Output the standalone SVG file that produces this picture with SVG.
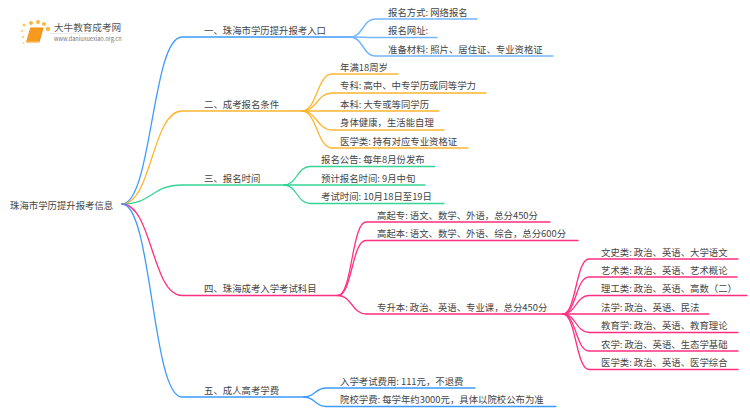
<svg xmlns="http://www.w3.org/2000/svg" width="750" height="410" viewBox="0 0 750 410">
<style>
text{font-family:"Noto Sans CJK SC","Noto Sans",sans-serif;font-size:9.4px;fill:#444}
path{fill:none;stroke-width:1.3;stroke-linecap:round}
.b{stroke:#3c9aff}.bl{stroke:#74b6ff;stroke-width:1.5}
.o{stroke:#ffb52e}.g{stroke:#35d495}.p{stroke:#ff2f80}
</style>
<defs><linearGradient id="fade"><stop offset="0" stop-color="#ddd"/><stop offset="1" stop-color="#fff"/></linearGradient></defs>
<rect width="750" height="410" fill="#fff"/>
<g id="logo">
<circle cx="22" cy="31" r="1.3" fill="#fbd58a"/><circle cx="23" cy="37" r="1.2" fill="#fbd58a"/><circle cx="24" cy="25" r="1.6" fill="#fbc65e"/>
<circle cx="31" cy="23" r="2" fill="#f9b73c"/><circle cx="38" cy="22" r="2" fill="#f9b73c"/><circle cx="44" cy="24" r="2" fill="#f9b73c"/><circle cx="48" cy="29" r="2.2" fill="#f9b73c"/>
<circle cx="23.500" cy="43" r="1" fill="#fbd58a"/>
<path d="M31 28H43L39 42H27Z" style="fill:#f59a1c;stroke:#f08a10;stroke-width:1"/>
<path d="M27.500 42H39" style="stroke:#fbd08c;stroke-width:1"/>
<text x="54" y="31" style="font-size:9.6px;fill:#555">大牛教育成考网</text>
<rect x="50" y="33" width="83" height="0.8" fill="url(#fade)"/>
<text x="54" y="41" style="font-size:5.600px;fill:#777">www.daniuxuexiao.org.cn</text>
</g>
<g id="connectors">
<path class="b" d="M122 204C152 204 152 37 182 37H350"/>
<path class="o" d="M122 204C152 204 152 111 182 111H302"/>
<path class="g" d="M122 204C152 204 152 185 182 185H284"/>
<path class="p" d="M122 204C152 204 152 295.500 182 295.500H338"/>
<path class="b" d="M122 204C152 204 152 397 182 397H304"/>
<path class="bl" d="M350 37C363 37 363 19 375 19H477"/>
<path class="bl" d="M350 37C363 37 363 37.500 375 37.500H437"/>
<path class="bl" d="M350 37C363 37 363 56 375 56H553"/>
<path class="o" d="M302 111C317 111 317 74 332 74H398"/>
<path class="o" d="M302 111C317 111 317 93 332 93H486"/>
<path class="o" d="M302 111C317 111 317 111 332 111H439"/>
<path class="o" d="M302 111C317 111 317 130 332 130H444"/>
<path class="o" d="M302 111C317 111 317 148 332 148H468"/>
<path class="g" d="M284 185C297 185 297 166.500 310 166.500H435"/>
<path class="g" d="M284 185C297 185 297 185 310 185H425"/>
<path class="g" d="M284 185C297 185 297 203.500 310 203.500H444"/>
<path class="p" d="M338 295.500C352 295.500 352 222 366 222H550"/>
<path class="p" d="M338 295.500C352 295.500 352 240.500 366 240.500H578"/>
<path class="p" d="M338 295.500C352 295.500 352 314 366 314H563"/>
<path class="p" d="M563 314C576 314 576 259 589 259H738"/>
<path class="p" d="M563 314C576 314 576 277 589 277H737"/>
<path class="p" d="M563 314C576 314 576 295.500 589 295.500H747"/>
<path class="p" d="M563 314C576 314 576 314 589 314H709"/>
<path class="p" d="M563 314C576 314 576 332.500 589 332.500H738"/>
<path class="p" d="M563 314C576 314 576 351 589 351H738"/>
<path class="p" d="M563 314C576 314 576 369.500 589 369.500H738"/>
<path class="b" d="M304 397C315 397 315 388 326 388H475"/>
<path class="b" d="M304 397C315 397 315 406.500 326 406.500H556"/>
</g>
<g id="root"><text x="10" y="208.500">珠海市学历提升报考信息</text></g>
<g id="n1"><text x="204" y="34">一、珠海市学历提升报考入口</text></g>
<g id="n1-1"><text x="388" y="15.500">报名方式: 网络报名</text></g>
<g id="n1-2"><text x="388" y="34">报名网址:</text></g>
<g id="n1-3"><text x="388" y="52.500">准备材料: 照片、居住证、专业资格证</text></g>
<g id="n2"><text x="204" y="107.500">二、成考报名条件</text></g>
<g id="n2-1"><text x="340" y="70.500">年满18周岁</text></g>
<g id="n2-2"><text x="340" y="89">专科: 高中、中专学历或同等学力</text></g>
<g id="n2-3"><text x="340" y="107.500">本科: 大专或等同学历</text></g>
<g id="n2-4"><text x="340" y="126">身体健康，生活能自理</text></g>
<g id="n2-5"><text x="340" y="144.500">医学类: 持有对应专业资格证</text></g>
<g id="n3"><text x="204" y="181.500">三、报名时间</text></g>
<g id="n3-1"><text x="321" y="163">报名公告: 每年8月份发布</text></g>
<g id="n3-2"><text x="321" y="181.500">预计报名时间: 9月中旬</text></g>
<g id="n3-3"><text x="321" y="200">考试时间: 10月18日至19日</text></g>
<g id="n4"><text x="204" y="292">四、珠海成考入学考试科目</text></g>
<g id="n4-1"><text x="377" y="218.500">高起专: 语文、数学、外语，总分450分</text></g>
<g id="n4-2"><text x="377" y="237">高起本: 语文、数学、外语、综合，总分600分</text></g>
<g id="n4-3"><text x="377" y="310.500">专升本: 政治、英语、专业课，总分450分</text></g>
<g id="n4-3-1"><text x="601" y="255.500">文史类: 政治、英语、大学语文</text></g>
<g id="n4-3-2"><text x="601" y="274">艺术类: 政治、英语、艺术概论</text></g>
<g id="n4-3-3"><text x="601" y="292">理工类: 政治、英语、高数（二）</text></g>
<g id="n4-3-4"><text x="601" y="310.500">法学: 政治、英语、民法</text></g>
<g id="n4-3-5"><text x="601" y="329">教育学: 政治、英语、教育理论</text></g>
<g id="n4-3-6"><text x="601" y="347.500">农学: 政治、英语、生态学基础</text></g>
<g id="n4-3-7"><text x="601" y="366">医学类: 政治、英语、医学综合</text></g>
<g id="n5"><text x="204" y="393.500">五、成人高考学费</text></g>
<g id="n5-1"><text x="340" y="384.500">入学考试费用: 111元，不退费</text></g>
<g id="n5-2"><text x="340" y="403">院校学费: 每学年约3000元，具体以院校公布为准</text></g>
</svg>
